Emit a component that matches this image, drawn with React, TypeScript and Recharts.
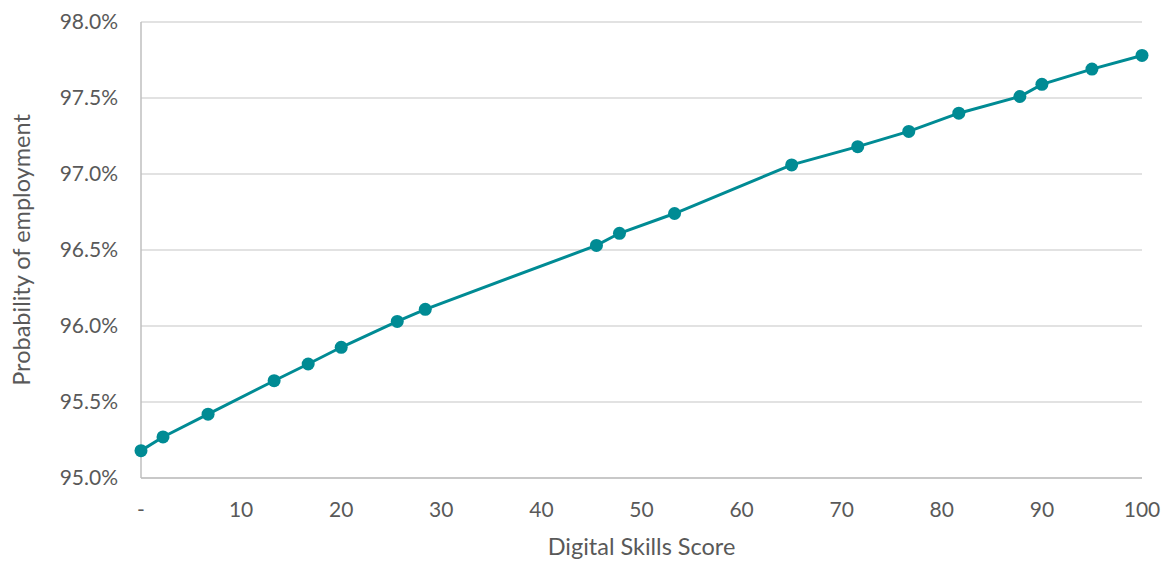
import { CartesianGrid, Line, LineChart, XAxis, YAxis } from "recharts";

// Digital skills score vs. probability of employment (%)
const scores = [0, 2.2, 6.7, 13.3, 16.7, 20.0, 25.6, 28.4, 45.5, 47.8, 53.3, 65.0, 71.6, 76.7, 81.7, 87.8, 90.0, 95.0, 100];
const probabilities = [
  95.18, 95.27, 95.42, 95.64, 95.75, 95.86, 96.03, 96.11, 96.53, 96.61, 96.74, 97.06, 97.18, 97.28, 97.4, 97.51, 97.59,
  97.69, 97.78,
];
const xTicks = [0, 10, 20, 30, 40, 50, 60, 70, 80, 90, 100];
const yTicks = [95, 95.5, 96, 96.5, 97, 97.5, 98];

const data = scores.map((score, i) => ({ score, prob: probabilities[i] }));

const teal = "#008B94";
const textColor = "#595959";
const font = "Lato, 'Open Sans', sans-serif";

export default function App() {
  return (
    <div style={{ position: "absolute", left: 0, top: 0 }}>
      <LineChart
        width={1168}
        height={562}
        data={data}
        margin={{ top: 22, right: 26, bottom: 0, left: 0 }}
        style={{ fontFamily: font }}
      >
        <CartesianGrid horizontal vertical={false} stroke="#d9d9d9" strokeWidth={1.5} />
        <XAxis
          dataKey="score"
          type="number"
          domain={[0, 100]}
          ticks={xTicks}
          height={84}
          stroke="#bfbfbf"
          strokeWidth={1.5}
          tickLine={false}
          tickSize={8}
          tickMargin={16}
          tick={{ fill: textColor, fontSize: 21 }}
          tickFormatter={(v: number) => (v === 0 ? "-" : `${v}`)}
          label={{ value: "Digital Skills Score", position: "insideBottom", offset: 7, fill: textColor, fontSize: 23.5 }}
        />
        <YAxis
          dataKey="prob"
          type="number"
          domain={[95, 98]}
          ticks={yTicks}
          width={141}
          stroke="#bfbfbf"
          strokeWidth={1.5}
          tickLine={false}
          tickSize={8}
          tickMargin={15}
          tick={{ fill: textColor, fontSize: 21 }}
          tickFormatter={(v: number) => `${v.toFixed(1)}%`}
          label={{
            value: "Probability of employment",
            angle: -90,
            position: "insideLeft",
            offset: 22,
            fill: textColor,
            fontSize: 23.5,
            style: { textAnchor: "middle" },
          }}
        />
        <Line
          type="linear"
          dataKey="prob"
          stroke={teal}
          strokeWidth={3}
          dot={{ r: 6.5, fill: teal, stroke: "none" }}
          activeDot={false}
          isAnimationActive={false}
        />
      </LineChart>
    </div>
  );
}
